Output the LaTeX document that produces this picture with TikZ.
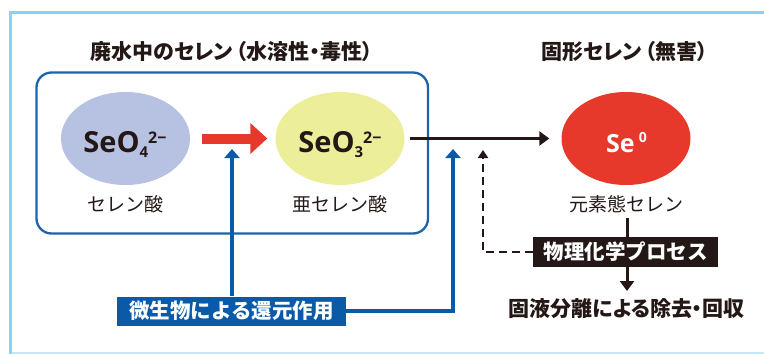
\documentclass[tikz,border=0pt]{standalone}
\usepackage{fontspec}
\setmainfont{Noto Sans CJK JP}
\newfontfamily\paltfont{Noto Sans CJK JP}[RawFeature=+palt]
\newfontfamily\chemfont{Open Sans}
\usetikzlibrary{arrows.meta,shapes.geometric}
\definecolor{frameblue}{HTML}{88D1F7}
\definecolor{framepale}{HTML}{C9E5F5}
\definecolor{boxblue}{HTML}{1E62AE}
\definecolor{labelblue}{HTML}{0A5AA8}
\definecolor{ionblue}{HTML}{B7C2E2}
\definecolor{ionyellow}{HTML}{ECEE9A}
\definecolor{sered}{HTML}{E6392B}
\definecolor{ink}{HTML}{231815}
\newcommand{\fs}[1]{\fontsize{#1}{#1}\selectfont}
\tikzset{
  ion/.style={ellipse, inner sep=0pt, minimum width=129pt, minimum height=93pt},
  formula/.style={anchor=base, inner sep=0pt, text=ink, font=\chemfont\bfseries\fs{29}},
  caption/.style={inner sep=0pt, text=ink, font=\fs{19}},
  title/.style={inner sep=0pt, text=ink, font=\paltfont\bfseries\fs{21}},
  tagbox/.style={inner sep=0pt, text=white, font=\bfseries\fs{20.5}, minimum height=29pt},
  bluearrow/.style={draw=labelblue, line width=3.5pt, -{Triangle[length=9pt, width=15pt]}},
  blackarrow/.style={draw=ink, line width=3pt, -{Triangle[length=10pt, width=14pt]}},
}
\begin{document}
\begin{tikzpicture}[x=1pt,y=-1pt]
\useasboundingbox (0,0) rectangle (764,354);
% frame
\draw[framepale, line width=2pt] (9,352.5) -- (764,352.5);
\draw[frameblue, line width=3.5pt] (10.5,354) -- (10.5,12.5) -- (764,12.5);

% titles
\node[title] (t1) at (231.5,52) {廃水中のセレン\hspace{3pt}（水溶性・毒性）};
\node[title] (t2) at (624.5,52) {固形セレン\hspace{3pt}（無害）};

% rounded box
\draw[boxblue, line width=2.3pt, rounded corners=15pt] (36.5,72.5) rectangle (428,233.5);

% ions
\node[ion, fill=ionblue] (e1) at (125.5,138.5) {};
\node[ion, fill=ionyellow] (e2) at (340,138.5) {};
\node[ion, fill=sered] (e3) at (626,138.5) {};

\node[formula] (f1) at (125,152) {SeO\raisebox{-5pt}{\fs{15}4}\raisebox{9pt}{\fs{16}2−}};
\node[formula] (f2) at (340,152) {SeO\raisebox{-5pt}{\fs{15}3}\raisebox{9pt}{\fs{16}2−}};
\node[formula, text=white, font=\chemfont\bfseries\fs{25}] (f3) at (626.5,152) {Se\,\raisebox{10pt}{\fs{14}0}};

\node[caption] (c1) at (125.5,204) {セレン酸};
\node[caption] (c2) at (340,204) {亜セレン酸};
\node[caption] (c3) at (626.5,204) {元素態セレン};

% red arrow
\draw[draw=sered, line width=10pt, -{Triangle[length=17pt, width=30pt]}]
  ([xshift=12pt]e1.east) -- ([xshift=-8pt]e2.west);

% black arrow to Se0
\draw[blackarrow] ([xshift=5pt]e2.east) -- ([xshift=-12pt]e3.west);

% label boxes
\node[tagbox, fill=labelblue, minimum width=229pt] (micro) at (231.5,311) {微生物による還元作用};
\node[tagbox, fill=ink, minimum width=185pt, minimum height=30pt] (phys) at (625.5,252) {物理化学プロセス};

% result
\node[title] (res) at (626.5,309) {固液分離による除去・回収};

% blue arrows
\coordinate (b1) at (232,149);
\coordinate (b2) at (453,149);
\draw[bluearrow] (micro.north -| b1) -- (b1);
\draw[bluearrow] (micro.east) -- (micro.east -| b2) -- (b2);

% vertical black line through process box
\coordinate (v0) at (627,218);
\coordinate (v1) at (627,291);
\draw[ink, line width=3pt] (v0) -- (v0 |- phys.north);
\draw[blackarrow] (v1 |- phys.south) -- (v1);

% dashed feedback
\coordinate (d1) at (483,150);
\draw[ink, line width=2pt, dash pattern=on 8pt off 5pt, -{Triangle[length=8pt, width=10pt]}]
  (phys.west) -- (phys.west -| d1) -- (d1);
\end{tikzpicture}
\end{document}
